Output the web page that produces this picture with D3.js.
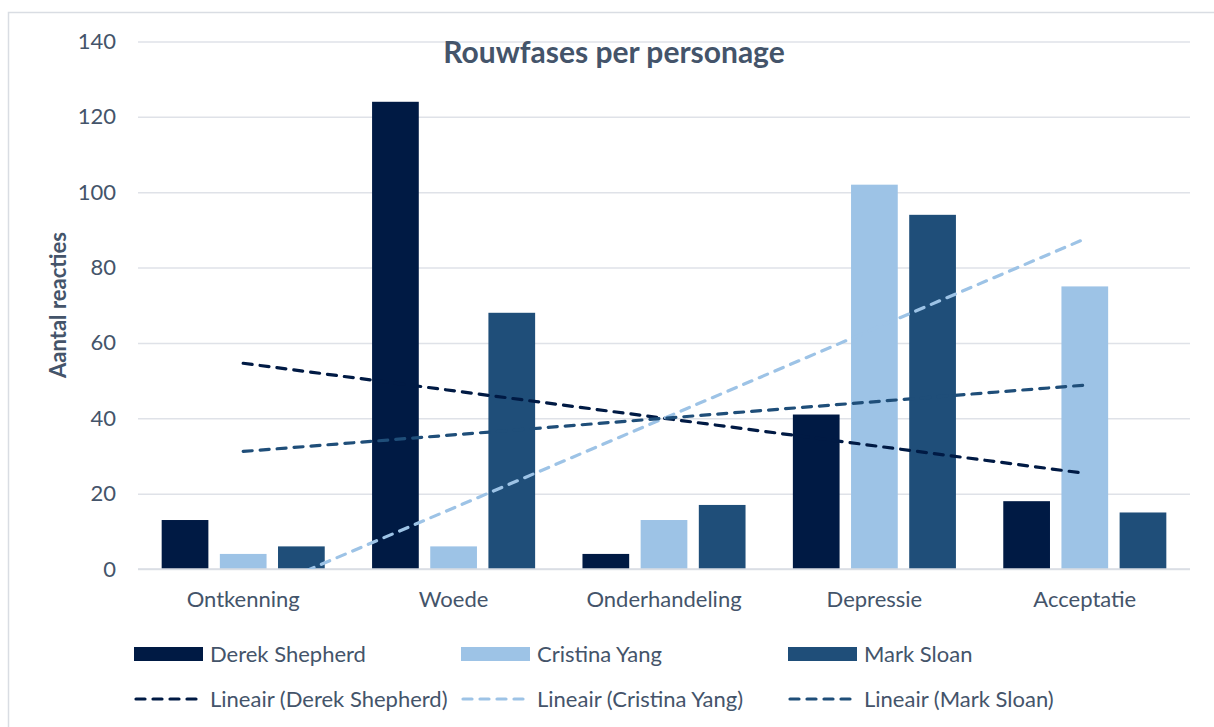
<!DOCTYPE html>
<html>
<head>
<meta charset="utf-8">
<title>Rouwfases per personage</title>
<script src="https://d3js.org/d3.v7.min.js"></script>
<style>
  body { margin: 0; background: #fff; }
  text { font-family: Lato, "Open Sans", sans-serif; fill: #44546a; }
</style>
</head>
<body>
<svg id="chart" width="1214" height="727"></svg>
<script>
// data
var phases = ["Ontkenning", "Woede", "Onderhandeling", "Depressie", "Acceptatie"];
var names = ["Derek Shepherd", "Cristina Yang", "Mark Sloan"];
var derek = [13, 124, 4, 41, 18];
var cristina = [4, 6, 13, 102, 75];
var mark = [6, 68, 17, 94, 15];
var yTicks = [0, 20, 40, 60, 80, 100, 120, 140];
var colors = ["#001a44", "#9dc3e6", "#1f4e79"];

var series = [derek, cristina, mark];

var svg = d3.select("#chart");

// outer chart frame
svg.append("rect")
    .attr("x", 8.5).attr("y", 12.5)
    .attr("width", 1230).attr("height", 740)
    .attr("fill", "none").attr("stroke", "#d9dde3").attr("stroke-width", 1.5);

var x = d3.scaleBand()
    .domain(phases)
    .range([138, 1190])
    .paddingInner(0.225)
    .paddingOuter(0.1125);

var xs = d3.scaleBand()
    .domain(d3.range(3))
    .range([0, x.bandwidth()])
    .paddingInner(0.197);

var y = d3.scaleLinear().domain([0, 140]).range([569, 41.5]);

// gridlines
svg.append("g")
    .attr("transform", "translate(138,0)")
    .call(d3.axisLeft(y).tickValues(yTicks).tickSize(-1052).tickFormat(""))
    .call(g => g.select(".domain").remove())
    .call(g => g.selectAll("line").attr("stroke", "#dfe2e8").attr("stroke-width", 1.5));

// y tick labels
svg.append("g")
    .attr("transform", "translate(116,0)")
    .call(d3.axisLeft(y).tickValues(yTicks).tickSize(0).tickPadding(0))
    .call(g => g.select(".domain").remove())
    .call(g => g.selectAll("text")
        .style("font-size", "22px")
        .style("font-family", "Lato, sans-serif")
        .attr("fill", "#44546a"));

// bars
var groups = svg.append("g").selectAll("g")
    .data(phases)
    .join("g")
    .attr("transform", d => "translate(" + x(d) + ",0)");

groups.selectAll("rect")
    .data((p, i) => series.map((s, k) => ({ k: k, v: s[i] })))
    .join("rect")
    .attr("x", d => xs(d.k))
    .attr("width", xs.bandwidth())
    .attr("y", d => y(d.v))
    .attr("height", d => y(0) - y(d.v))
    .attr("fill", d => colors[d.k]);

// baseline
svg.append("line")
    .attr("x1", 138).attr("x2", 1190)
    .attr("y1", y(0)).attr("y2", y(0))
    .attr("stroke", "#d9dde3").attr("stroke-width", 1.5);

// category labels
svg.append("g")
    .attr("transform", "translate(0," + y(0) + ")")
    .call(d3.axisBottom(x).tickSize(0).tickPadding(22))
    .call(g => g.select(".domain").remove())
    .call(g => g.selectAll("text")
        .style("font-size", "22px")
        .style("font-family", "Lato, sans-serif")
        .attr("fill", "#44546a"));

// linear trendlines (least squares over x = 1..5)
function fit(vals) {
    var n = vals.length;
    var xm = (n + 1) / 2;
    var ym = d3.mean(vals);
    var num = d3.sum(vals, (v, i) => (i + 1 - xm) * (v - ym));
    var den = d3.sum(vals, (v, i) => (i + 1 - xm) * (i + 1 - xm));
    var b = num / den;
    return { a: ym - b * xm, b: b };
}

svg.append("clipPath").attr("id", "plotclip")
    .append("rect").attr("x", 138).attr("y", 41).attr("width", 1052).attr("height", y(0) - 41);

var xc = i => x(phases[i]) + x.bandwidth() / 2;

svg.append("g").attr("clip-path", "url(#plotclip)")
    .selectAll("line")
    .data(series.map(fit))
    .join("line")
    .attr("x1", xc(0)).attr("x2", xc(4))
    .attr("y1", d => y(d.a + d.b * 1))
    .attr("y2", d => y(d.a + d.b * 5))
    .attr("stroke", (d, i) => colors[i])
    .attr("stroke-width", 3.2)
    .attr("stroke-dasharray", "9,8")
    .attr("stroke-linecap", "round");

// title
svg.append("text")
    .attr("x", 614).attr("y", 63)
    .attr("text-anchor", "middle")
    .style("font-size", "30px").style("font-weight", "bold")
    .text("Rouwfases per personage");

// y axis title
svg.append("text")
    .attr("transform", "translate(66,305) rotate(-90)")
    .attr("text-anchor", "middle")
    .style("font-size", "22px").style("font-weight", "bold")
    .text("Aantal reacties");

// legend
var legX = [133, 460, 787];
var leg1 = svg.append("g").selectAll("g").data(names).join("g")
    .attr("transform", (d, i) => "translate(" + legX[i] + ",654)");
leg1.append("rect")
    .attr("x", 1).attr("y", -7).attr("width", 69).attr("height", 14)
    .attr("fill", (d, i) => colors[i]);
leg1.append("text")
    .attr("x", 77).attr("dy", "0.35em")
    .style("font-size", "22px")
    .text(d => d);

var leg2 = svg.append("g").selectAll("g").data(names).join("g")
    .attr("transform", (d, i) => "translate(" + legX[i] + ",699)");
leg2.append("line")
    .attr("x1", 3).attr("x2", 70)
    .attr("stroke", (d, i) => colors[i])
    .attr("stroke-width", 3.2)
    .attr("stroke-dasharray", "9,8")
    .attr("stroke-linecap", "round");
leg2.append("text")
    .attr("x", 77).attr("dy", "0.35em")
    .style("font-size", "22px")
    .text(d => "Lineair (" + d + ")");
</script>
</body>
</html>
